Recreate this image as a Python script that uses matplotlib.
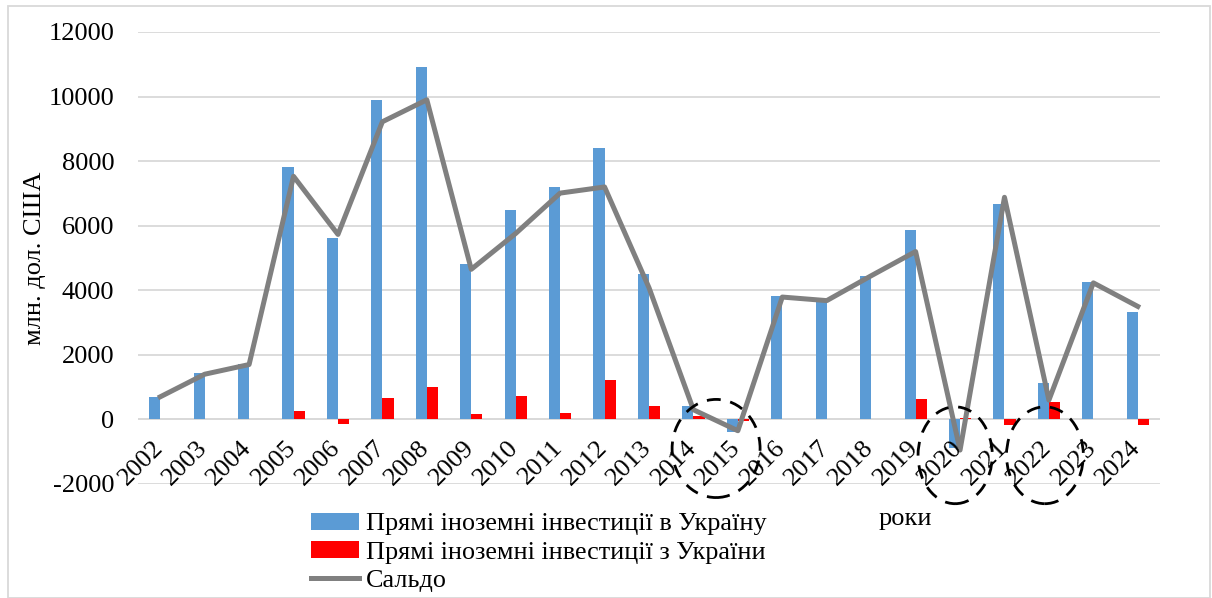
import matplotlib.pyplot as plt
from matplotlib.patches import Ellipse, Rectangle
import numpy as np

years = [str(y) for y in range(2002, 2025)]
fdi_in = [693, 1424, 1715, 7808, 5604, 9891, 10913, 4816, 6495, 7207, 8401, 4499,
          410, -400, 3810, 3692, 4455, 5860, -870, 6680, 1140, 4250, 3330]
fdi_out = [0, 0, 0, 275, -133, 673, 1010, 162, 736, 192, 1206, 420,
           111, -50, 16, 8, 5, 648, 30, -170, 530, 20, -170]
saldo = [700, 1400, 1700, 7530, 5730, 9220, 9900, 4650, 5760, 7010, 7200, 4080,
         300, -350, 3790, 3680, 4450, 5200, -950, 6880, 600, 4230, 3500]

plt.rcParams['font.family'] = ['Liberation Serif', 'DejaVu Serif']
plt.rcParams['axes.unicode_minus'] = False
fs = 19

fig = plt.figure(figsize=(12.12, 5.98), dpi=100)
ax = fig.add_axes([138 / 1212, 1 - 484 / 598, (1160 - 138) / 1212, (484 - 32) / 598])

x = np.arange(len(years))
w = 0.25
b1 = ax.bar(x - w / 2, fdi_in, w, color='#5b9bd5', zorder=2)
b2 = ax.bar(x + w / 2, fdi_out, w, color='#ff0000', zorder=2)
ln, = ax.plot(x, saldo, color='#808080', lw=3.6, zorder=3, solid_joinstyle='round')

ax.set_xlim(-0.5, len(years) - 0.5)
ax.set_ylim(-2000, 12000)
ax.set_yticks(range(-2000, 12001, 2000))
ax.tick_params(axis='y', length=0, pad=17, labelsize=fs)
ax.set_xticks([])
ax.grid(axis='y', color='#d9d9d9', lw=1.3, zorder=0)
ax.axhline(0, color='#d9d9d9', lw=1.3, zorder=1)
for s in ax.spines.values():
    s.set_visible(False)

for i, yr in enumerate(years):
    ax.annotate(yr, xy=(i, 0), xytext=(7, -17), textcoords='offset pixels',
                ha='right', va='top', rotation=45, fontsize=fs)

ax.set_ylabel('млн. дол. США', fontsize=fs, labelpad=2)

# dashed circles
for cx, cy, ew, eh in [(12.51, -900, 1.98, 3040), (17.89, -1110, 1.67, 3000), (19.91, -1110, 1.73, 3000)]:
    ax.add_patch(Ellipse((cx, cy), ew, eh, fill=False, ec='black', lw=2,
                         ls=(0, (5, 3.5)), zorder=4, clip_on=False))

fig.text(905 / 1212, 1 - 519 / 598, 'роки', fontsize=fs, ha='center', va='center')

fig.legend([b1, b2, ln],
           ['Прямі іноземні інвестиції в Україну', 'Прямі іноземні інвестиції з України', 'Сальдо'],
           loc='upper left', bbox_to_anchor=(311 / 1212, 1 - 513 / 598), frameon=False,
           fontsize=18.8, handlelength=1.85, handleheight=0.6, handletextpad=0.25,
           labelspacing=0.22, borderaxespad=0, borderpad=0)

fig.add_artist(Rectangle((8 / 1212, 0), 1 - 10 / 1212, 1 - 6 / 598, transform=fig.transFigure,
                         fill=False, ec='#d9d9d9', lw=1.3))

fig.savefig('out.png', dpi=100)
